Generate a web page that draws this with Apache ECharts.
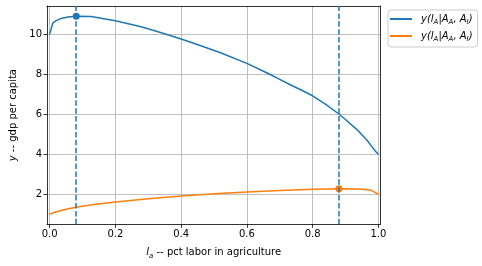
<!DOCTYPE html>
<html>
<head>
<meta charset="utf-8">
<script src="https://cdn.jsdelivr.net/npm/echarts@6/dist/echarts.min.js"></script>
<style>html,body{margin:0;padding:0;background:#fff}#c{width:482px;height:266px}</style>
</head>
<body>
<div id="c"></div>
<script>
// Blue curve: y(l_A | A_A, A_I)
const blueX = [0, 0.01, 0.02, 0.035, 0.056, 0.081, 0.126, 0.2, 0.278, 0.34, 0.4, 0.46, 0.52, 0.6, 0.662, 0.7, 0.732, 0.77, 0.8, 0.84, 0.879, 0.9, 0.934, 0.95, 0.965, 0.98, 0.99, 1.0];
const blueY = [10.0, 10.58, 10.69, 10.8, 10.87, 10.91, 10.89, 10.68, 10.38, 10.08, 9.77, 9.43, 9.08, 8.55, 8.07, 7.75, 7.48, 7.18, 6.93, 6.5, 6.03, 5.74, 5.25, 4.98, 4.72, 4.40, 4.18, 4.0];
// Orange curve
const orangeX = [0, 0.02, 0.05, 0.08, 0.14, 0.2, 0.3, 0.4, 0.5, 0.6, 0.7, 0.8, 0.884, 0.94, 0.975, 0.99, 1.0];
const orangeY = [1.0, 1.13, 1.25, 1.35, 1.5, 1.615, 1.78, 1.915, 2.03, 2.12, 2.19, 2.25, 2.28, 2.27, 2.22, 2.1, 2.0];
// Marked points and vertical lines
const bluePeak = [0.081, 10.91];
const orangePeak = [0.88, 2.28];
const vLines = [0.081, 0.88];
// Tick labels
const xTicks = [0, 0.2, 0.4, 0.6, 0.8, 1.0];
const yTicks = [2, 4, 6, 8, 10];
const seriesNames = ['blue', 'orange'];

const F = 'DejaVu Sans';
const rich = {
  i: { fontFamily: F, fontStyle: 'italic', fontSize: 10, color: '#000', lineHeight: 14 },
  n: { fontFamily: F, fontSize: 10, color: '#000', lineHeight: 14 },
  s: { fontFamily: F, fontStyle: 'italic', fontSize: 7, color: '#000', lineHeight: 14, verticalAlign: 'bottom', padding: [4, 0, 0, 0] }
};
const legendLabel = '{i|y(l}{s|A}{i||A}{s|A}{i|, A}{s|I}{i|)}';

const chart = echarts.init(document.getElementById('c'), null, { renderer: 'canvas' });
chart.setOption({
  animation: false,
  backgroundColor: '#fff',
  grid: { left: 45.7, right: 101.7, top: 6, bottom: 41.7, containLabel: false },
  legend: {
    data: seriesNames,
    left: 388, top: 10,
    orient: 'vertical',
    icon: 'rect', itemWidth: 22, itemHeight: 2, itemGap: 5,
    backgroundColor: '#fff', borderColor: '#cccccc', borderWidth: 1, borderRadius: 3,
    padding: [4, 5, 4, 2],
    formatter: () => legendLabel,
    textStyle: { rich: rich, padding: [0, 0, 0, 4] }
  },
  xAxis: [{
    type: 'value', min: -0.008, max: 1.006,
    name: '{i|l}{s|a}{n| -- pct labor in agriculture}',
    nameLocation: 'middle', nameGap: 21,
    nameTextStyle: { rich: rich },
    axisLine: { show: true, onZero: false, lineStyle: { color: '#000', width: 0.8 } },
    axisTick: { show: true, length: 3.5, lineStyle: { color: '#000', width: 0.8 }, customValues: xTicks },
    axisLabel: { color: '#000', fontFamily: F, fontSize: 10, margin: 5, customValues: xTicks, formatter: v => v.toFixed(1) },
    splitLine: { show: true, lineStyle: { color: '#b0b0b0', width: 0.8 } }
  }, {
    type: 'value', position: 'top', min: -0.008, max: 1.006,
    axisLine: { show: true, onZero: false, lineStyle: { color: '#000', width: 0.8 } },
    axisTick: { show: false }, axisLabel: { show: false }, splitLine: { show: false }
  }],
  yAxis: [{
    type: 'value', min: 0.5, max: 11.42,
    name: '{i|y}{n| -- gdp per capita}',
    nameLocation: 'middle', nameGap: 27,
    nameTextStyle: { rich: rich },
    axisLine: { show: true, onZero: false, lineStyle: { color: '#000', width: 0.8 } },
    axisTick: { show: true, length: 3.5, lineStyle: { color: '#000', width: 0.8 }, customValues: yTicks },
    axisLabel: { color: '#000', fontFamily: F, fontSize: 10, margin: 5, customValues: yTicks },
    splitLine: { show: true, lineStyle: { color: '#b0b0b0', width: 0.8 } }
  }, {
    type: 'value', position: 'right', min: 0.5, max: 11.42,
    axisLine: { show: true, onZero: false, lineStyle: { color: '#000', width: 0.8 } },
    axisTick: { show: false }, axisLabel: { show: false }, splitLine: { show: false }
  }],
  series: [
    {
      name: seriesNames[0], type: 'line', xAxisIndex: 0, yAxisIndex: 0,
      data: blueX.map((x, i) => [x, blueY[i]]),
      showSymbol: false, smooth: false,
      lineStyle: { color: '#1f77b4', width: 1.5 }, itemStyle: { color: '#1f77b4' },
      markLine: {
        silent: true, symbol: 'none', label: { show: false },
        lineStyle: { color: '#1f77b4', type: [5.5, 2.4], width: 1.5 },
        data: vLines.map(v => ({ xAxis: v }))
      },
      z: 3
    },
    {
      name: seriesNames[1], type: 'line', xAxisIndex: 0, yAxisIndex: 0,
      data: orangeX.map((x, i) => [x, orangeY[i]]),
      showSymbol: false, smooth: false,
      lineStyle: { color: '#ff7f0e', width: 1.5 }, itemStyle: { color: '#ff7f0e' },
      z: 3
    },
    {
      name: 'bluePt', type: 'scatter', data: [bluePeak], symbolSize: 7,
      itemStyle: { color: '#1f77b4', opacity: 1 }, z: 4
    },
    {
      name: 'orangePt', type: 'scatter', data: [orangePeak], symbolSize: 7,
      itemStyle: { color: '#ff7f0e', opacity: 1 }, z: 4
    }
  ]
});
</script>
</body>
</html>
